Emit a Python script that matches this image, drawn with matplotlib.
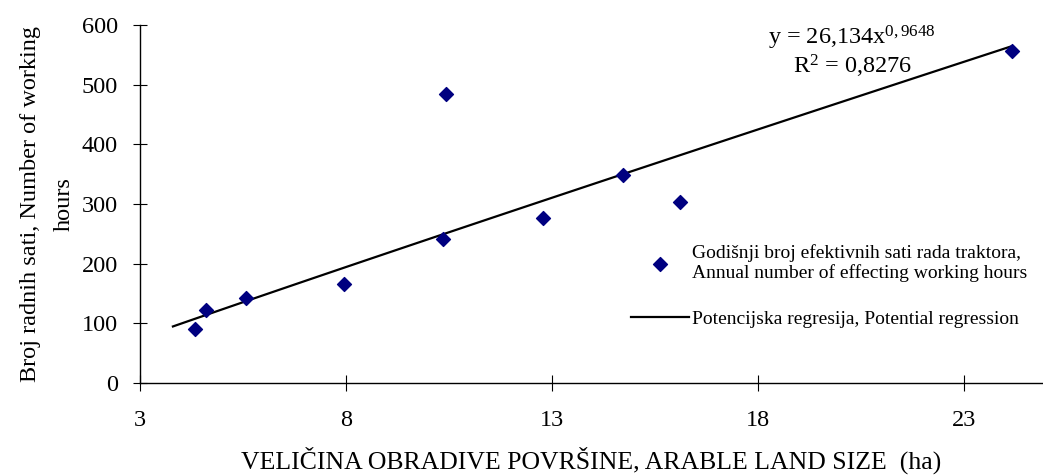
import numpy as np
import matplotlib.pyplot as plt

plt.rcParams['font.family'] = ['Liberation Serif', 'DejaVu Serif']
plt.rcParams['mathtext.fontset'] = 'custom'
plt.rcParams['mathtext.rm'] = 'Liberation Serif'
plt.rcParams['mathtext.it'] = 'Liberation Serif:italic'

# data
land_size = [4.33, 4.6, 5.57, 7.95, 10.43, 10.35, 12.78, 14.72, 16.1, 24.17]
work_hours = [90, 122, 142, 166, 484, 242, 277, 349, 303, 556]

# power regression shown on the chart: y = a * x^b
coef_a = 26.134
coef_b = 0.9648
fit_range = [3.8, 24.17]

x_ticks = [3, 8, 13, 18, 23]
y_ticks = [0, 100, 200, 300, 400, 500, 600]

fig = plt.figure(figsize=(10.43, 4.76), dpi=100)
ax = fig.add_axes([0.1342, 0.1954, 0.8658, 0.7521])

xf = np.linspace(fit_range[0], fit_range[1], 100)
ax.scatter(land_size, work_hours, marker='D', s=50, color='#000080', zorder=3,
           label='Godišnji broj efektivnih sati rada traktora,\nAnnual number of effecting working hours')
ax.plot(xf, coef_a * xf ** coef_b, color='black', lw=1.6,
        label='Potencijska regresija, Potential regression')

ax.set_xlim(3, 24.92)
ax.set_ylim(0, 600)
ax.set_xticks(x_ticks)
ax.set_yticks(y_ticks)
for s in ['top', 'right']:
    ax.spines[s].set_visible(False)
ax.spines['left'].set_linewidth(1)
ax.spines['bottom'].set_linewidth(1)
ax.tick_params(axis='y', direction='inout', length=10, pad=11, labelsize=17.5)
ax.tick_params(axis='x', direction='inout', length=11, pad=14, labelsize=17.5)

ax.set_xlabel('VELIČINA OBRADIVE POVRŠINE, ARABLE LAND SIZE  (ha)', fontsize=18.5, labelpad=11)
ax.set_ylabel('Broj radnih sati, Number of working\nhours', fontsize=17.5, labelpad=5, linespacing=1.8)

ax.text(0.736, 0.92, r'y = 26,134x$^{0,9648}$', transform=fig.transFigure,
        fontsize=17.5, ha='left', va='center')
ax.text(0.760, 0.861, r'R$^2$ = 0,8276', transform=fig.transFigure,
        fontsize=17.5, ha='left', va='center')

ax.legend(loc='upper left', bbox_to_anchor=(0.605, 0.488), bbox_transform=fig.transFigure,
          frameon=False, fontsize=14, handlelength=3.0, handletextpad=0.15,
          labelspacing=1.45, borderpad=0, borderaxespad=0)

fig.savefig('out.png', dpi=100)
